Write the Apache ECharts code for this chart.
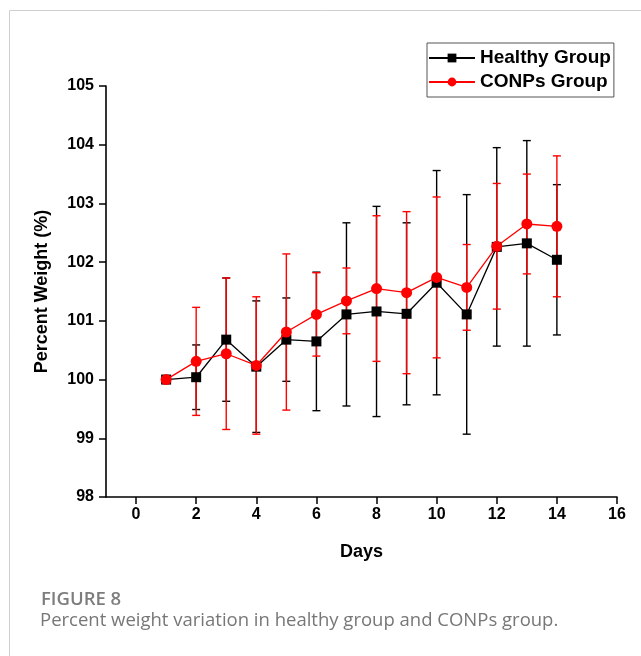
<!DOCTYPE html>
<html>
<head>
<meta charset="utf-8">
<script src="https://cdn.jsdelivr.net/npm/echarts@6/dist/echarts.min.js"></script>
<style>html,body{margin:0;padding:0;background:#fff;}#c{width:641px;height:656px;}</style>
</head>
<body>
<div id="c"></div>
<script>
var days = [1,2,3,4,5,6,7,8,9,10,11,12,13,14];
var healthyMean = [100.00,100.04,100.68,100.22,100.68,100.65,101.11,101.16,101.12,101.65,101.11,102.26,102.32,102.04];
var healthyErr  = [0,0.55,1.05,1.12,0.71,1.18,1.56,1.79,1.55,1.91,2.04,1.69,1.75,1.28];
var conpsMean   = [100.00,100.31,100.44,100.24,100.81,101.11,101.34,101.55,101.48,101.74,101.57,102.27,102.65,102.61];
var conpsErr    = [0,0.92,1.29,1.17,1.33,0.71,0.56,1.24,1.38,1.37,0.73,1.07,0.85,1.20];
var xTicks = [0,2,4,6,8,10,12,14,16];
var seriesNames = ['Healthy Group','CONPs Group'];

function pairs(m){ return days.map(function(d,i){ return [d, m[i]]; }); }
function errData(m,e){ return days.map(function(d,i){ return [d, m[i]-e[i], m[i]+e[i]]; }); }
function errRender(color){
  return function(params, api){
    var x = api.value(0), lo = api.value(1), hi = api.value(2);
    if (hi - lo < 1e-9) return null;
    var pLo = api.coord([x, lo]), pHi = api.coord([x, hi]);
    var hw = 4;
    var st = {stroke: color, lineWidth: 1.4};
    return {type:'group', children:[
      {type:'line', shape:{x1:pLo[0],y1:pLo[1],x2:pHi[0],y2:pHi[1]}, style:st},
      {type:'line', shape:{x1:pLo[0]-hw,y1:pLo[1],x2:pLo[0]+hw,y2:pLo[1]}, style:st},
      {type:'line', shape:{x1:pHi[0]-hw,y1:pHi[1],x2:pHi[0]+hw,y2:pHi[1]}, style:st}
    ]};
  };
}

var chart = echarts.init(document.getElementById('c'), null, {renderer:'canvas'});
var F = 'Liberation Sans, Arial, sans-serif';
chart.setOption({
  animation: false,
  backgroundColor: '#fff',
  grid: {left:106, right:24, top:86, bottom:159, containLabel:false},
  legend: {
    data: seriesNames,
    orient: 'vertical',
    left: 427, top: 43,
    padding: [5,3,5,1],
    itemGap: 4,
    itemWidth: 46, itemHeight: 11,
    borderColor: '#555', borderWidth: 1,
    textStyle: {fontFamily: F, fontWeight: 'bold', fontSize: 19, color: '#000', lineHeight: 20, padding:[0,0,0,0]}
  },
  xAxis: {
    type: 'value', min: -1, max: 16,
    name: 'Days', nameLocation: 'middle', nameGap: 46,
    nameTextStyle: {fontFamily: F, fontWeight: 'bold', fontSize: 18, color: '#000'},
    axisLine: {onZero: false, lineStyle: {color: '#000', width: 1.6}},
    axisTick: {show: true, inside: false, length: 7, customValues: xTicks, lineStyle: {color:'#000', width:1.5}},
    axisLabel: {customValues: xTicks, fontFamily: F, fontWeight: 'bold', fontSize: 16, color: '#000', margin: 10},
    splitLine: {show: false}
  },
  yAxis: {
    type: 'value', min: 98, max: 105, interval: 1,
    name: 'Percent Weight (%)', nameLocation: 'middle', nameGap: 55, nameRotate: 90,
    nameTextStyle: {fontFamily: F, fontWeight: 'bold', fontSize: 18, color: '#000'},
    axisLine: {show: true, onZero: false, lineStyle: {color: '#000', width: 1.6}},
    axisTick: {show: true, inside: false, length: 7, lineStyle: {color:'#000', width:1.5}},
    axisLabel: {fontFamily: F, fontWeight: 'bold', fontSize: 16, color: '#000', margin: 12},
    splitLine: {show: false}
  },
  series: [
    {type:'custom', name:'hErr', data: errData(healthyMean, healthyErr), renderItem: errRender('#000'), z: 2, silent: true, encode:{x:0,y:[1,2]}},
    {type:'custom', name:'cErr', data: errData(conpsMean, conpsErr), renderItem: errRender('#ff0000'), z: 3, silent: true, encode:{x:0,y:[1,2]}},
    {type:'line', name: seriesNames[0], data: pairs(healthyMean), symbol:'rect', symbolSize: 10,
     itemStyle:{color:'#000'}, lineStyle:{color:'#000', width:1.3}, z: 4},
    {type:'line', name: seriesNames[1], data: pairs(conpsMean), symbol:'circle', symbolSize: 11,
     itemStyle:{color:'#ff0000'}, lineStyle:{color:'#ff0000', width:1.3}, z: 5}
  ],
  graphic: [
    {type:'rect', shape:{x:9.5, y:10.5, width:700, height:700}, style:{fill:'none', stroke:'#cfcfcf', lineWidth:1}, silent:true, z:-1},
    {type:'text', left: 41, top: 590, style:{text:'FIGURE 8', fontFamily:'Open Sans, sans-serif', fontWeight:600, fontSize:18.5, fill:'#7d7d7d'}},
    {type:'text', left: 40, top: 611, style:{text:'Percent weight variation in healthy group and CONPs group.', fontFamily:'Open Sans, sans-serif', fontSize:18.5, fill:'#777'}}
  ]
});
</script>
</body>
</html>
